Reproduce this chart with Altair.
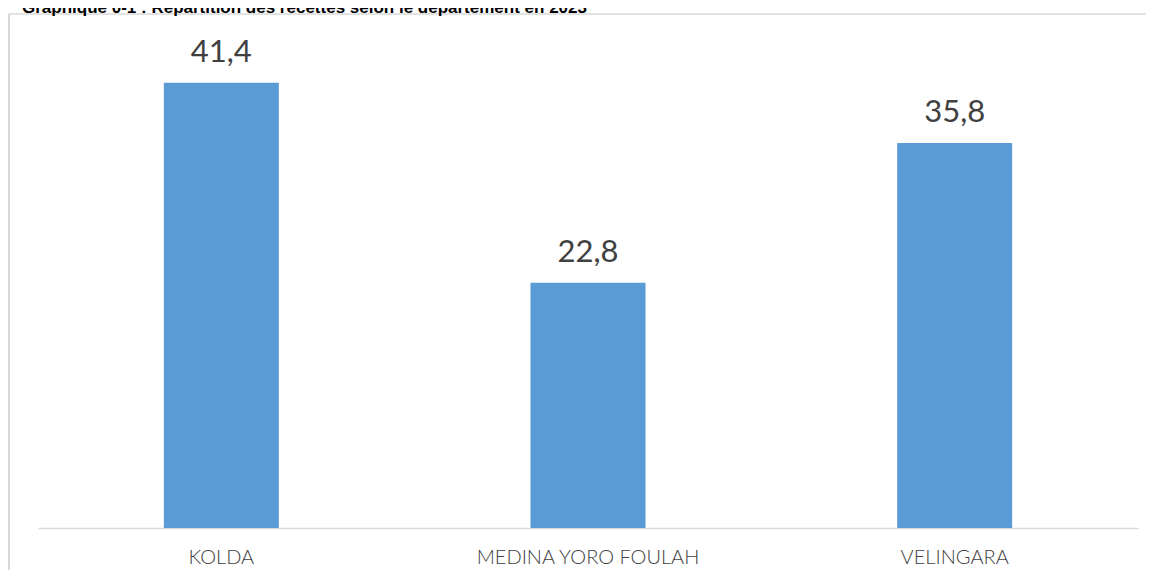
import altair as alt
import pandas as pd

departements = ["KOLDA", "MEDINA YORO FOULAH", "VELINGARA"]
valeurs = [41.4, 22.8, 35.8]
titre = "Graphique 0-1 : Répartition des recettes selon le département en 2023"

df = pd.DataFrame({
    "dept": departements,
    "val": valeurs,
    "lab": [f"{v:.1f}".replace(".", ",") for v in valeurs],
})

W, H = 1100, 514

x = alt.X("dept:N", sort=None,
          scale=alt.Scale(paddingInner=0, paddingOuter=0),
          axis=alt.Axis(title=None, labelAngle=0, ticks=False, grid=False,
                        domainColor="#d9d9d9", domainWidth=1.5,
                        labelFont="Lato", labelFontSize=20, labelFontWeight=300,
                        labelColor="#404040", labelPadding=19, labelLimit=0))
y = alt.Y("val:Q", scale=alt.Scale(domain=[0, 47.8], nice=False), axis=None)

base = alt.Chart(df)
bars = base.mark_bar(size=115, color="#5b9bd5").encode(x=x, y=y)
labels = base.mark_text(font="Lato", fontSize=31, color="#404040",
                        baseline="alphabetic", dy=-21).encode(x=x, y=y, text="lab:N")

one = alt.Data(values=[{"a": 1}])
title = alt.Chart(one).mark_text(font="Liberation Sans", fontSize=17, fontWeight="bold",
                                  color="#000000", align="left", baseline="alphabetic").encode(
    x=alt.value(-16), y=alt.value(-1), text=alt.value(titre))
frame_left = alt.Chart(one).mark_rule(color="#d9d9d9", strokeWidth=2).encode(
    x=alt.value(-29), y=alt.value(0), y2=alt.value(600))
frame_top = alt.Chart(one).mark_rule(color="#d9d9d9", strokeWidth=1.5).encode(
    x=alt.value(-30), x2=alt.value(1130), y=alt.value(0))

chart = alt.layer(frame_left, frame_top, bars, labels, title).properties(
    width=W, height=H,
    autosize=alt.AutoSizeParams(type="none"),
    padding={"left": 30, "top": 6, "right": 8, "bottom": 42},
).configure_view(stroke=None)

chart.save("out.html", embed_options={"renderer": "svg", "actions": False})
